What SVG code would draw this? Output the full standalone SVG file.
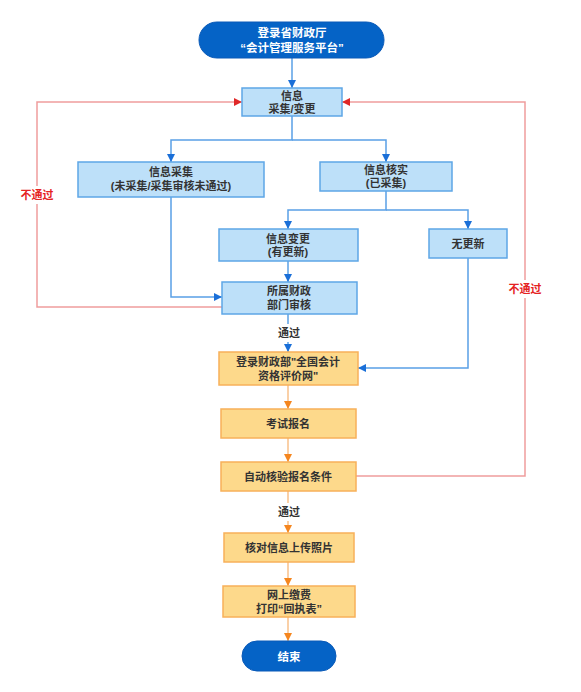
<svg xmlns="http://www.w3.org/2000/svg" width="581" height="692" viewBox="0 0 581 692">
<style>
text{font-family:"Liberation Sans","Noto Sans CJK SC",sans-serif;font-size:11px;font-weight:bold;text-anchor:middle;fill:#333;}
.w{fill:#fff;font-size:11.5px;}
.r{fill:#e52222;}
.pill{fill:#0563c6;stroke:#0a5ab8;stroke-width:1;}
.bl{fill:#bde0f9;stroke:#5ea6e6;stroke-width:1.5;}
.or{fill:#fdd98b;stroke:#f7b05a;stroke-width:1.5;}
.cb{fill:none;stroke:#5aa0e6;stroke-width:1.5;}
.co{fill:none;stroke:#f9c08a;stroke-width:1.5;}
.cr{fill:none;stroke:#ef9d9d;stroke-width:1.5;}
</style>
<defs>
<marker id="ab" markerWidth="10" markerHeight="10" refX="8" refY="4" orient="auto" markerUnits="userSpaceOnUse"><path d="M0,0 L8,4 L0,8 Z" fill="#1a6fd8"/></marker>
<marker id="ao" markerWidth="10" markerHeight="10" refX="8" refY="4" orient="auto" markerUnits="userSpaceOnUse"><path d="M0,0 L8,4 L0,8 Z" fill="#f5861f"/></marker>
<marker id="ar" markerWidth="10" markerHeight="10" refX="8" refY="4" orient="auto" markerUnits="userSpaceOnUse"><path d="M0,0 L8,4 L0,8 Z" fill="#e02828"/></marker>
</defs>
<rect width="581" height="692" fill="#fff"/>
<g id="connectors">
<path class="cb" d="M292,58 V88" marker-end="url(#ab)"/>
<path class="cb" d="M292,116 V140 H171 V162" marker-end="url(#ab)"/>
<path class="cb" d="M292,140 H386 V162" marker-end="url(#ab)"/>
<path class="cb" d="M386,191 V210 H288 V229" marker-end="url(#ab)"/>
<path class="cb" d="M386,210 H468 V229" marker-end="url(#ab)"/>
<path class="cb" d="M288,261 V282" marker-end="url(#ab)"/>
<path class="cb" d="M171,197 V297 H222" marker-end="url(#ab)"/>
<path class="cb" d="M468,258 V368 H358" marker-end="url(#ab)"/>
<path class="cb" d="M288,314 V352" marker-end="url(#ab)"/>
<path class="cr" d="M222,307 H37 V102 H242" marker-end="url(#ar)"/>
<path class="cr" d="M356,476 H525 V102 H342" marker-end="url(#ar)"/>
<path class="co" d="M288,385 V409" marker-end="url(#ao)"/>
<path class="co" d="M288,438 V462" marker-end="url(#ao)"/>
<path class="co" d="M288,491 V533" marker-end="url(#ao)"/>
<path class="co" d="M288,562 V586" marker-end="url(#ao)"/>
<path class="co" d="M288,617 V641" marker-end="url(#ao)"/>
<rect x="18" y="186" width="38" height="18" fill="#fff"/>
<text class="r" x="37" y="199">不通过</text>
<rect x="506" y="280" width="38" height="18" fill="#fff"/>
<text class="r" x="525" y="293">不通过</text>
<rect x="275" y="324" width="28" height="18" fill="#fff"/>
<text x="289" y="337">通过</text>
<rect x="275" y="503" width="28" height="18" fill="#fff"/>
<text x="289" y="516">通过</text>
</g>
<g id="start"><rect class="pill" x="199" y="22" width="185" height="36" rx="18"/><text class="w" x="292" y="37">登录省财政厅</text><text class="w" x="292" y="52">“会计管理服务平台”</text></g>
<g id="info"><rect class="bl" x="242" y="88" width="100" height="28"/><text x="292" y="100">信息</text><text x="292" y="113">采集/变更</text></g>
<g id="collect"><rect class="bl" x="78" y="162" width="186" height="35"/><text x="171" y="176">信息采集</text><text x="171" y="190">(未采集/采集审核未通过)</text></g>
<g id="verify"><rect class="bl" x="320" y="162" width="132" height="29"/><text x="386" y="174">信息核实</text><text x="386" y="187">(已采集)</text></g>
<g id="change"><rect class="bl" x="219" y="229" width="139" height="32"/><text x="288" y="243">信息变更</text><text x="288" y="256">(有更新)</text></g>
<g id="noupdate"><rect class="bl" x="429" y="229" width="78" height="29"/><text x="468" y="248">无更新</text></g>
<g id="review"><rect class="bl" x="222" y="282" width="135" height="32"/><text x="289" y="295">所属财政</text><text x="289" y="309">部门审核</text></g>
<g id="login"><rect class="or" x="219" y="352" width="139" height="33"/><text x="288" y="366">登录财政部"全国会计</text><text x="288" y="380">资格评价网"</text></g>
<g id="signup"><rect class="or" x="221" y="409" width="135" height="29"/><text x="288" y="428">考试报名</text></g>
<g id="check"><rect class="or" x="221" y="462" width="135" height="29"/><text x="288" y="481">自动核验报名条件</text></g>
<g id="photo"><rect class="or" x="224" y="533" width="130" height="29"/><text x="289" y="552">核对信息上传照片</text></g>
<g id="pay"><rect class="or" x="223" y="586" width="132" height="31"/><text x="289" y="599">网上缴费</text><text x="289" y="613">打印“回执表”</text></g>
<g id="end"><rect class="pill" x="242" y="641" width="94" height="30" rx="15"/><text class="w" x="289" y="661">结束</text></g>
</svg>
